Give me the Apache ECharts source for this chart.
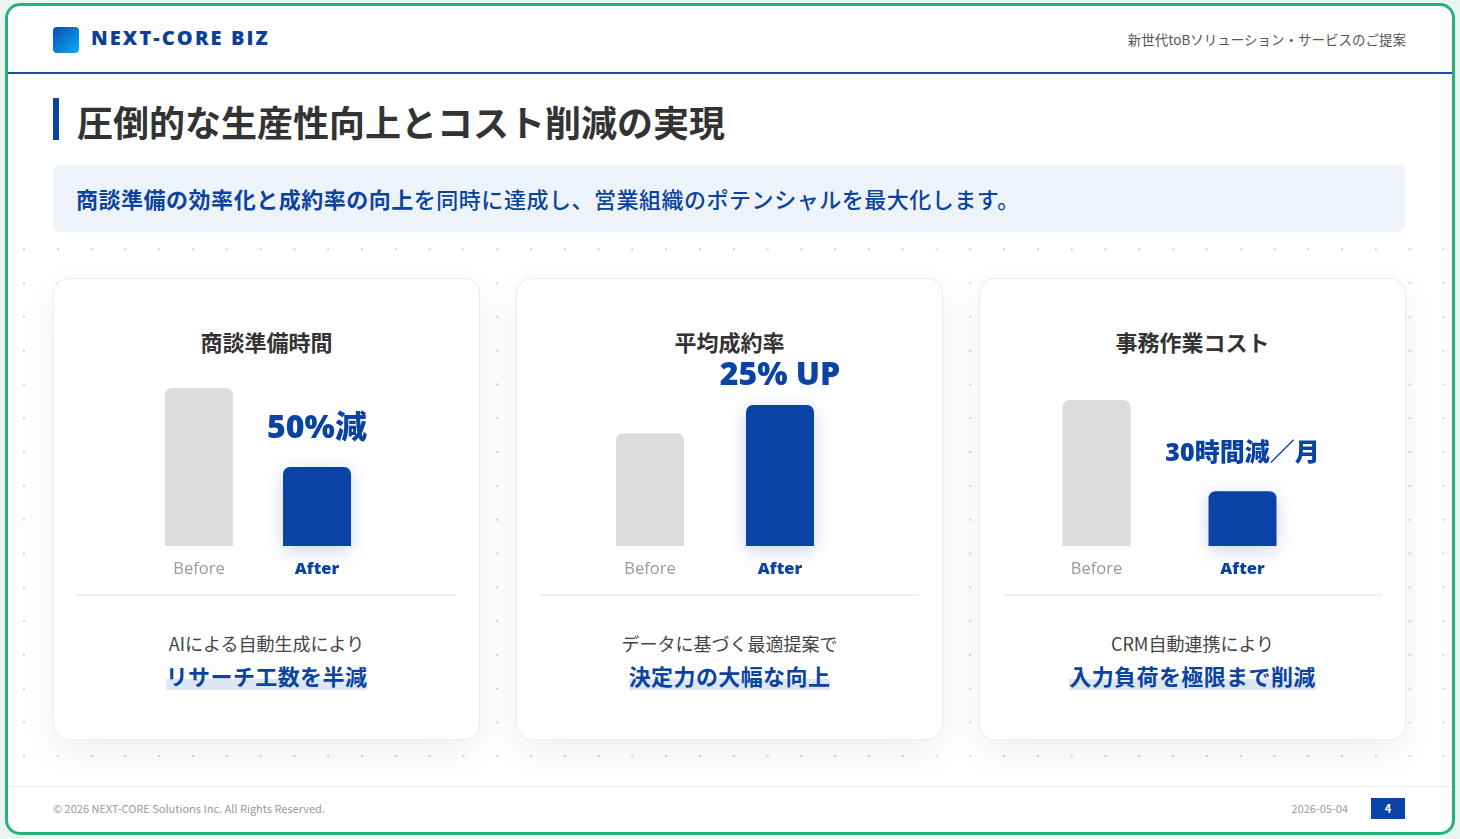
<!DOCTYPE html>
<html lang="ja">
<head>
<meta charset="utf-8">
<script src="https://cdn.jsdelivr.net/npm/echarts@6/dist/echarts.min.js"></script>
<style>
  html, body { margin: 0; padding: 0; }
  body { width: 1460px; height: 839px; background: #e9f6f0; position: relative; overflow: hidden;
         font-family: 'Noto Sans CJK JP', 'Noto Sans', sans-serif; }
  .abs { position: absolute; }
  .frame { left: 5px; top: 3px; width: 1444px; height: 826px; border: 3px solid #27b07c; border-radius: 15px; background: #fff; }
  .dots { left: 8px; top: 240px; width: 1444px; height: 530px;
          background-image: radial-gradient(circle, #d4d4d4 0.9px, rgba(255,255,255,0) 1.4px);
          background-size: 33.8px 33.8px; background-position: -0.9px -7.6px; }
  .logo { left: 53px; top: 27px; width: 26px; height: 26px; border-radius: 4px;
          background: linear-gradient(135deg, #0b4cb0 0%, #0a8fe0 70%, #0ab0ee 100%); }
  .brand { left: 91px; top: 24px; font-family: 'Open Sans', Lato, sans-serif; font-weight: 800; font-size: 20px;
           letter-spacing: 2.1px; color: #0b3f98; line-height: 28px; }
  .tagline { right: 54px; top: 29px; font-size: 13.5px; color: #555; line-height: 20px; }
  .hline { left: 8px; top: 72px; width: 1444px; height: 2px; background: #1a4ea8; }
  .tbar { left: 53px; top: 98px; width: 6px; height: 42px; background: #0a43a5; }
  .title { left: 77px; top: 98px; font-size: 36px; font-weight: 700; color: #333; line-height: 46px; white-space: nowrap; }
  .lead { left: 53px; top: 165px; width: 1352px; height: 67px; border-radius: 8px; background: #eef3fa; }
  .lead span.t { position: absolute; left: 23px; top: 19px; font-size: 22px; line-height: 28px; color: #0b44a0; white-space: nowrap;
                 font-weight: 500; letter-spacing: 0.52px; }
  .lead b { font-weight: 700; }
  .card { width: 425px; height: 460px; top: 278px; background: #fff; border: 1px solid #ececec; border-radius: 16px;
          box-shadow: 0 12px 36px rgba(0,0,0,0.07); }
  .ctitle { position: absolute; left: 0; width: 100%; top: 47px; text-align: center; font-size: 22px; font-weight: 700;
            color: #333; line-height: 30px; }
  .sep { position: absolute; left: 23px; right: 23px; top: 315px; height: 2px; background: #f0f0f0; }
  .sub { position: absolute; left: 0; width: 100%; top: 351px; text-align: center; font-size: 18px; color: #444; line-height: 26px; }
  .hl { position: absolute; left: 0; width: 100%; top: 381px; text-align: center; }
  .hl span { font-size: 22px; font-weight: 700; color: #0b44a0; line-height: 30px; letter-spacing: 0.4px;
             background: linear-gradient(to bottom, rgba(0,0,0,0) 63%, #dde6f5 63%, #dde6f5 96%, rgba(0,0,0,0) 96%); }
  .fline { left: 8px; top: 786px; width: 1444px; height: 1px; background: #eeeeee; }
  .copy { left: 53px; top: 800px; font-size: 11px; color: #999; line-height: 16px; }
  .date { right: 112px; top: 800px; font-size: 11px; color: #999; line-height: 16px; }
  .page { left: 1371px; top: 798px; width: 34px; height: 21px; background: #0a43a5; color: #fff; font-size: 11px; font-weight: 700;
          text-align: center; line-height: 21px; }
  #chart { position: absolute; left: 0; top: 0; width: 1460px; height: 839px; pointer-events: none; }
</style>
</head>
<body>
<div class="abs frame"></div>
<div class="abs dots"></div>
<div class="abs logo"></div>
<div class="abs brand">NEXT-CORE BIZ</div>
<div class="abs tagline">新世代toBソリューション・サービスのご提案</div>
<div class="abs hline"></div>
<div class="abs tbar"></div>
<div class="abs title">圧倒的な生産性向上とコスト削減の実現</div>
<div class="abs lead"><span class="t"><b>商談準備の効率化と成約率の向上</b>を同時に達成し、営業組織のポテンシャルを最大化します。</span></div>
<div id="cards"></div>
<div class="abs fline"></div>
<div class="abs copy">© 2026 NEXT-CORE Solutions Inc. All Rights Reserved.</div>
<div class="abs date">2026-05-04</div>
<div class="abs page">4</div>
<div id="chart"></div>
<script>
// ---- data ----
const categories = ['Before', 'After'];
const cardTitles = ['商談準備時間', '平均成約率', '事務作業コスト'];
const prepTime = [100, 50];     // 商談準備時間 (Before=100)
const closeRate = [100, 125];   // 平均成約率 (Before=100)
const adminCost = [48, 18];     // 事務作業コスト (時間/月)
const badges = ['50%減', '25% UP', '30時間減／月'];
const notes = ['AIによる自動生成により', 'データに基づく最適提案で', 'CRM自動連携により'];
const points = ['リサーチ工数を半減', '決定力の大幅な向上', '入力負荷を極限まで削減'];

// ---- layout ----
const cardLeft = [53, 516, 979];
const seriesData = [prepTime, closeRate, adminCost];
const grids = [
  { left: 140, width: 236, top: 388, height: 158 },
  { left: 585, width: 260, top: 405, height: 141 },
  { left: 1023.5, width: 292, top: 400, height: 146 }
];
const yMax = [100, 125, 48];
const badgeSize = [32, 32, 25];
const badgeDist = [22, 13, 25];

const cardsEl = document.getElementById('cards');
cardTitles.forEach((t, i) => {
  const c = document.createElement('div');
  c.className = 'abs card';
  c.style.left = cardLeft[i] + 'px';
  c.innerHTML = '<div class="ctitle">' + t + '</div><div class="sep"></div>' +
    '<div class="sub">' + notes[i] + '</div><div class="hl"><span>' + points[i] + '</span></div>';
  cardsEl.appendChild(c);
});

const chart = echarts.init(document.getElementById('chart'), null, { renderer: 'canvas' });
const BLUE = '#0a43a5';
const GRAY = '#dcdcdc';
const latin = "'Open Sans', 'Noto Sans CJK JP', sans-serif";

const option = {
  backgroundColor: 'transparent',
  animation: false,
  grid: grids.map(g => Object.assign({ containLabel: false }, g)),
  xAxis: grids.map((g, i) => ({
    type: 'category', gridIndex: i, data: categories,
    axisLine: { show: false }, axisTick: { show: false }, splitLine: { show: false },
    axisLabel: {
      margin: 15,
      formatter: v => v === 'After' ? '{a|' + v + '}' : '{b|' + v + '}',
      rich: {
        a: { fontFamily: latin, fontSize: 16.5, fontWeight: 800, color: BLUE },
        b: { fontFamily: latin, fontSize: 16.5, fontWeight: 400, color: '#999' }
      }
    }
  })),
  yAxis: grids.map((g, i) => ({
    type: 'value', gridIndex: i, min: 0, max: yMax[i], show: false
  })),
  series: seriesData.map((d, i) => ({
    type: 'bar', xAxisIndex: i, yAxisIndex: i, barWidth: 68,
    data: [
      { value: d[0], itemStyle: { color: GRAY, borderRadius: [7, 7, 0, 0] } },
      {
        value: d[1],
        itemStyle: { color: BLUE, borderRadius: [7, 7, 0, 0], shadowColor: 'rgba(10,67,165,0.22)', shadowBlur: 18, shadowOffsetY: 4 },
        label: {
          show: true, position: 'top', distance: badgeDist[i],
          formatter: badges[i],
          fontFamily: latin, fontWeight: 800, fontSize: badgeSize[i], color: BLUE
        }
      }
    ]
  }))
};
chart.setOption(option);
</script>
</body>
</html>
